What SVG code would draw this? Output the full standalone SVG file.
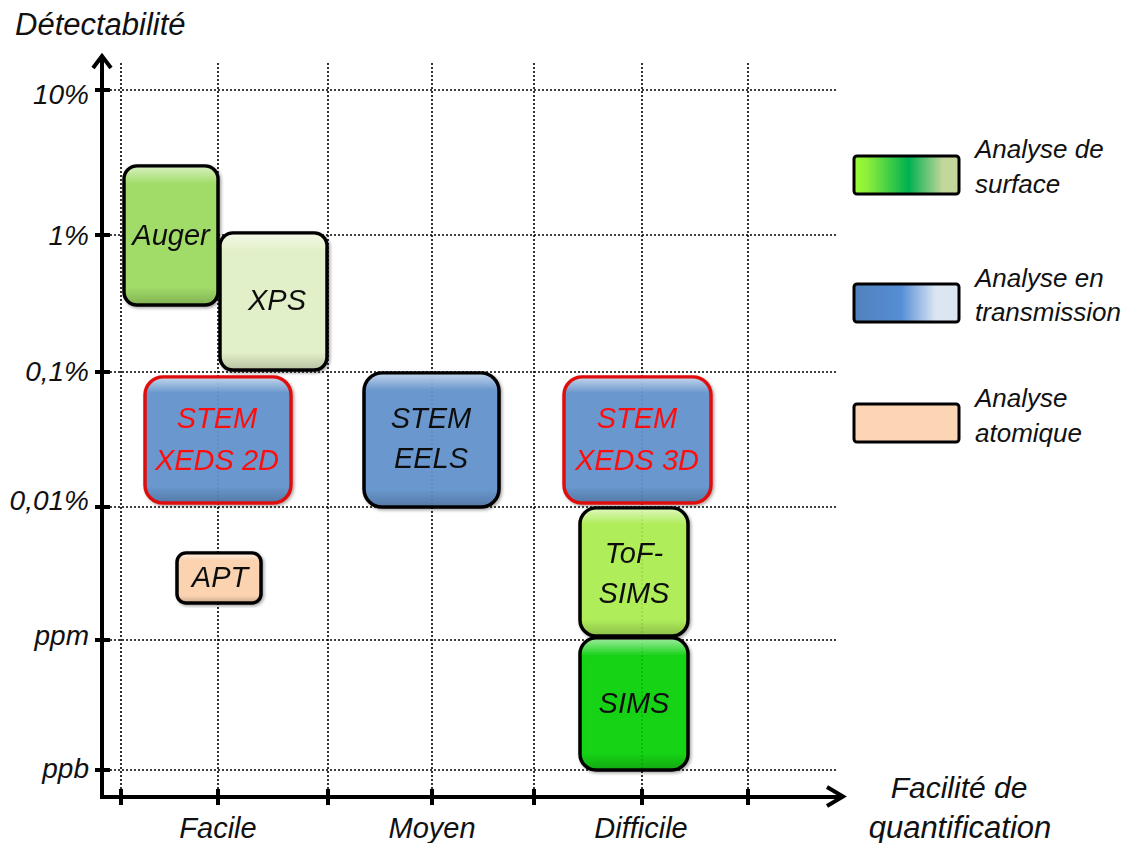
<svg xmlns="http://www.w3.org/2000/svg" width="1128" height="843" viewBox="0 0 1128 843">
<style>
text{font-family:"Liberation Sans",Arial,sans-serif;font-style:italic;fill:#111}
.grid{stroke:#000;stroke-width:1.6;stroke-dasharray:2 2;fill:none}
.axis{stroke:#000;stroke-width:4;fill:none}
.tick{stroke:#000;stroke-width:4}
.box{stroke:#000;stroke-width:3.5}
.red{stroke:#e01010}
.gl{fill:url(#gloss);stroke:none}
.lbl{font-size:29px;text-anchor:middle}
.ax{font-size:29px;text-anchor:middle}
.rt{fill:#ff1010}
.yl{font-size:28px;text-anchor:end}
.leg{font-size:26px}
.sw{stroke:#000;stroke-width:3}
</style>
<defs>
<linearGradient id="gloss" x1="0" y1="0" x2="0" y2="1">
<stop offset="0" stop-color="#fff" stop-opacity="0.55"/>
<stop offset="0.12" stop-color="#fff" stop-opacity="0"/>
<stop offset="0.88" stop-color="#000" stop-opacity="0"/>
<stop offset="1" stop-color="#000" stop-opacity="0.18"/>
</linearGradient>
<linearGradient id="g1" x1="0" y1="0" x2="1" y2="0">
<stop offset="0" stop-color="#99ff33"/>
<stop offset="0.12" stop-color="#8ef03a"/>
<stop offset="0.52" stop-color="#00b050"/>
<stop offset="0.85" stop-color="#c4d79b"/>
<stop offset="1" stop-color="#c4d79b"/>
</linearGradient>
<linearGradient id="g2" x1="0" y1="0" x2="1" y2="0">
<stop offset="0" stop-color="#4f81bd"/>
<stop offset="0.45" stop-color="#558ed5"/>
<stop offset="0.78" stop-color="#dce6f2"/>
<stop offset="1" stop-color="#dce6f2"/>
</linearGradient>
<filter id="sh" x="-10%" y="-10%" width="120%" height="120%">
<feDropShadow dx="1.5" dy="1.5" stdDeviation="1.5" flood-color="#000" flood-opacity="0.35"/>
</filter>
</defs>
<rect width="1128" height="843" fill="#fff"/>

<g id="grid">
<path class="grid" d="M110 90H838M110 235H838M110 372H838M110 507H838M110 640H838M110 770H838"/>
<path class="grid" d="M121 63V790M218 63V790M328 63V790M432 63V790M534 63V790M642 63V790M748 63V790"/>
</g>

<g id="axes">
<path class="axis" d="M102 797V57M93 68L102 56L111 68"/>
<path class="axis" d="M100 797H843M827 787L843 796.5L827 806"/>
<path class="tick" d="M95 90H110M95 235H110M95 372H110M95 507H110M95 640H110M95 770H110"/>
<path class="tick" d="M121 789V805M218 789V805M328 789V805M432 789V805M534 789V805M642 789V805M748 789V805"/>
<text x="15" y="35" style="font-size:31px">Détectabilité</text>
<text class="yl" x="89" y="104">10%</text>
<text class="yl" x="89" y="245">1%</text>
<text class="yl" x="89" y="381">0,1%</text>
<text class="yl" x="89" y="510">0,01%</text>
<text class="yl" x="89" y="645">ppm</text>
<text class="yl" x="89" y="778">ppb</text>
<text class="ax" x="218" y="838">Facile</text>
<text class="ax" x="432" y="838">Moyen</text>
<text class="ax" x="641" y="838">Difficile</text>
<text class="ax" x="959" y="798" style="font-size:30px">Facilité de</text>
<text class="ax" x="960" y="838" style="font-size:31px">quantification</text>
</g>

<g id="auger" filter="url(#sh)">
<rect class="box" x="124" y="166" width="94" height="139" rx="13" fill="#a1dc68"/>
<rect class="gl" x="125.5" y="167.5" width="91" height="136" rx="12"/>
<text class="lbl" x="171" y="245">Auger</text>
</g>
<g id="xps" filter="url(#sh)">
<rect class="box" x="220" y="233" width="107" height="137" rx="13" fill="#e2f0c9"/>
<rect class="gl" x="221.5" y="234.5" width="104" height="134" rx="12"/>
<text class="lbl" x="277" y="310">XPS</text>
</g>
<g id="stem-xeds-2d" filter="url(#sh)">
<rect class="box red" x="145" y="377" width="146" height="126" rx="18" fill="#6393cd" fill-opacity="0.93"/>
<rect class="gl" x="146.5" y="378.5" width="143" height="123" rx="17"/>
<text class="lbl rt" x="217" y="428">STEM</text>
<text class="lbl rt" x="217" y="470">XEDS 2D</text>
</g>
<g id="stem-eels" filter="url(#sh)">
<rect class="box" x="364" y="373" width="135" height="134" rx="18" fill="#6393cd" fill-opacity="0.93"/>
<rect class="gl" x="365.5" y="374.5" width="132" height="131" rx="17"/>
<text class="lbl" x="431" y="428">STEM</text>
<text class="lbl" x="431" y="468">EELS</text>
</g>
<g id="stem-xeds-3d" filter="url(#sh)">
<rect class="box red" x="564" y="377" width="147" height="126" rx="18" fill="#6393cd" fill-opacity="0.93"/>
<rect class="gl" x="565.5" y="378.5" width="144" height="123" rx="17"/>
<text class="lbl rt" x="637" y="428">STEM</text>
<text class="lbl rt" x="637" y="470">XEDS 3D</text>
</g>
<g id="apt" filter="url(#sh)">
<rect class="box" x="177" y="553" width="84" height="50" rx="9" fill="#fcd3b0"/>
<rect class="gl" x="178.5" y="554.5" width="81" height="47" rx="8"/>
<text class="lbl" x="220" y="587">APT</text>
</g>
<g id="tof-sims" filter="url(#sh)">
<rect class="box" x="580" y="508" width="108" height="128" rx="16" fill="#abf04c" fill-opacity="0.88"/>
<rect class="gl" x="581.5" y="509.5" width="105" height="125" rx="15"/>
<text class="lbl" x="634" y="563">ToF-</text>
<text class="lbl" x="634" y="603">SIMS</text>
</g>
<g id="sims" filter="url(#sh)">
<rect class="box" x="580" y="638" width="108" height="132" rx="16" fill="#06d306" fill-opacity="0.88"/>
<rect class="gl" x="581.5" y="639.5" width="105" height="129" rx="15"/>
<text class="lbl" x="634" y="713">SIMS</text>
</g>

<g id="legend-surface">
<rect class="sw" x="854" y="156" width="105" height="38" rx="3" fill="url(#g1)"/>
<text class="leg" x="975" y="158">Analyse de</text>
<text class="leg" x="975" y="193">surface</text>
</g>
<g id="legend-transmission">
<rect class="sw" x="854" y="284" width="105" height="38" rx="3" fill="url(#g2)"/>
<text class="leg" x="975" y="287">Analyse en</text>
<text class="leg" x="975" y="321">transmission</text>
</g>
<g id="legend-atomique">
<rect class="sw" x="854" y="404" width="105" height="38" rx="3" fill="#fcd5b4"/>
<text class="leg" x="975" y="407">Analyse</text>
<text class="leg" x="975" y="442">atomique</text>
</g>
</svg>
